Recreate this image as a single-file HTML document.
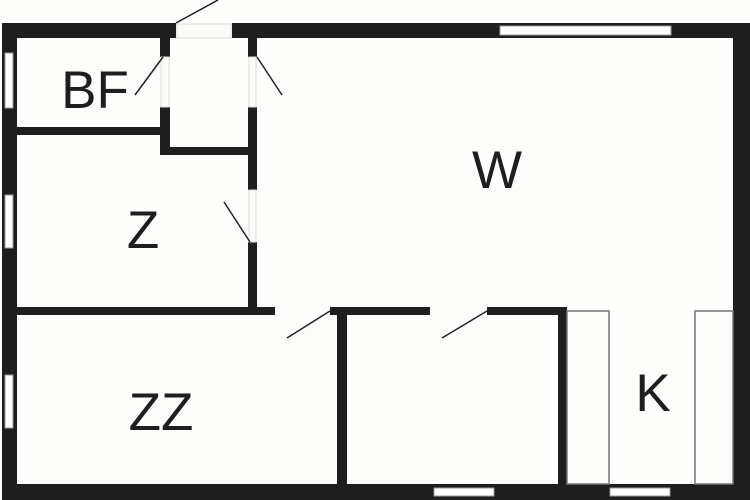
<!DOCTYPE html>
<html><head><style>html,body{margin:0;padding:0;background:#fdfdfb;}svg{display:block}</style></head>
<body>
<svg width="750" height="500" viewBox="0 0 750 500" xmlns="http://www.w3.org/2000/svg">
<rect width="750" height="500" fill="#fdfdfb"/>
<g fill="#1e1e1e">
<rect x="2" y="23" width="174" height="15"/>
<rect x="232" y="23" width="518" height="15"/>
<rect x="2" y="23" width="15" height="477"/>
<rect x="733" y="23" width="17" height="477"/>
<rect x="2" y="484" width="748" height="16"/>
<rect x="160" y="38" width="10" height="19"/>
<rect x="160" y="107" width="10" height="48"/>
<rect x="17" y="127" width="153" height="8"/>
<rect x="160" y="147" width="97" height="8"/>
<rect x="248" y="38" width="9" height="19"/>
<rect x="248" y="107" width="9" height="83"/>
<rect x="248" y="242" width="9" height="73"/>
<rect x="17" y="307" width="258" height="8"/>
<rect x="330" y="307" width="100" height="8"/>
<rect x="337" y="307" width="10" height="177"/>
<rect x="487" y="307" width="80" height="8"/>
<rect x="558" y="307" width="9" height="177"/>
</g>
<g fill="#fff" stroke="#999" stroke-width="1">
<rect x="5" y="53" width="8" height="55"/>
<rect x="5" y="195" width="8" height="53"/>
<rect x="5" y="375" width="8" height="53"/>
<rect x="500" y="26" width="171" height="9"/>
<rect x="434" y="488" width="60" height="8"/>
<rect x="610" y="488" width="60" height="8"/>
</g>
<g fill="#fbfbf8" stroke="#ddd" stroke-width="1">
<rect x="177" y="24" width="54" height="14"/>
<rect x="161" y="57" width="8" height="50"/>
<rect x="249" y="57" width="7" height="50"/>
<rect x="249" y="190" width="7" height="52"/>
</g>
<g fill="none" stroke="#777" stroke-width="1.5">
<rect x="567" y="311" width="42" height="173"/>
<rect x="695" y="311" width="38" height="173"/>
</g>
<g stroke="#222" stroke-width="1.5">
<line x1="176" y1="23" x2="218" y2="0"/>
<line x1="135" y1="95" x2="163" y2="57"/>
<line x1="257" y1="57" x2="282" y2="95"/>
<line x1="224" y1="202" x2="250" y2="242"/>
<line x1="287" y1="338" x2="330" y2="311"/>
<line x1="442" y1="338" x2="487" y2="311"/>
</g>
<g font-family="Liberation Sans, sans-serif" font-size="53" fill="#1e1e1e" text-anchor="middle">
<text x="95" y="108">BF</text>
<text x="497" y="188">W</text>
<text x="143" y="248">Z</text>
<text x="161" y="430">ZZ</text>
<text x="653" y="411">K</text>
</g>
</svg>
</body></html>
